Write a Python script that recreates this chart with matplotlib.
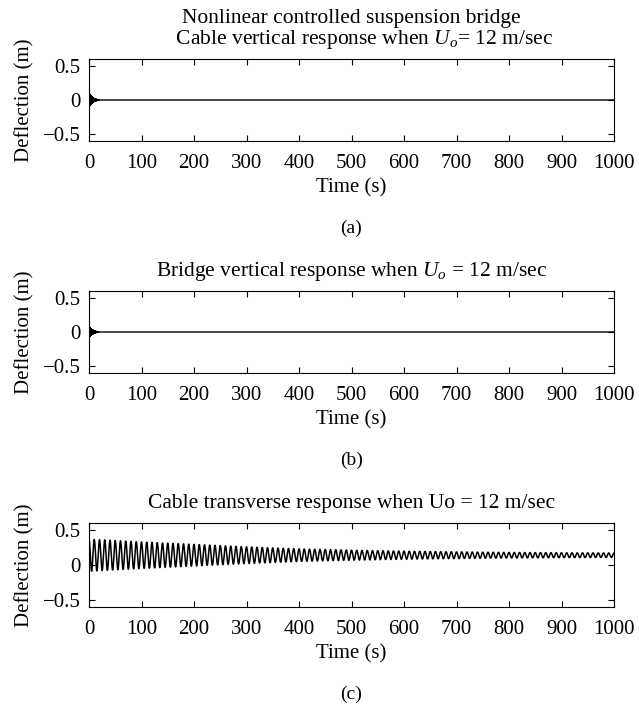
import numpy as np
import matplotlib
matplotlib.use("Agg")
import matplotlib.pyplot as plt

plt.rcParams['font.family'] = ['Liberation Serif', 'DejaVu Serif']
plt.rcParams['mathtext.fontset'] = 'custom'
plt.rcParams['mathtext.rm'] = 'Liberation Serif'
plt.rcParams['mathtext.it'] = 'Liberation Serif:italic'
plt.rcParams['font.size'] = 15

# --- values ---
# (a) cable vertical / (b) bridge vertical: short burst at the start, then ~0
burst_t = [0, 2, 5, 8, 12, 16, 20]
burst_amp_a = [0.10, 0.075, 0.05, 0.03, 0.015, 0.005, 0.0]
burst_amp_b = [0.08, 0.06, 0.04, 0.025, 0.012, 0.004, 0.0]
burst_period = 0.6  # s

# (c) cable transverse: slow oscillation about an offset, decaying envelope
env_t = [0, 100, 200, 300, 400, 500, 600, 700, 800, 900, 1000]
c_center = [0.14, 0.14, 0.14, 0.14, 0.14, 0.14, 0.14, 0.14, 0.14, 0.14, 0.14]
c_amp = [0.23, 0.19, 0.155, 0.12, 0.09, 0.072, 0.058, 0.048, 0.04, 0.035, 0.032]
c_period = 10.0  # s

xticks = [0, 100, 200, 300, 400, 500, 600, 700, 800, 900, 1000]
yticks = [-0.5, 0, 0.5]
ytick_labels = ['\u22120.5', '0', '0.5']

titles = [
    'Nonlinear controlled suspension bridge\n     Cable vertical response when $U_o$= 12 m/sec',
    'Bridge vertical response when $U_o$ = 12 m/sec',
    'Cable transverse response when Uo = 12 m/sec',
]
panel_tags = ['(a)', '(b)', '(c)']

t = np.arange(0, 1000.01, 0.05)
sig_a = np.interp(t, burst_t, burst_amp_a) * np.sin(2 * np.pi * t / burst_period)
sig_b = np.interp(t, burst_t, burst_amp_b) * np.sin(2 * np.pi * t / burst_period)
sig_c = np.interp(t, env_t, c_center) + np.interp(t, env_t, c_amp) * np.cos(2 * np.pi * t / c_period)
signals = [sig_a, sig_b, sig_c]

W, H = 639, 710
fig = plt.figure(figsize=(W / 100, H / 100), dpi=100)

# axes frames in pixels: (left, top, right, bottom)
frames = [(89, 59, 614, 141), (89, 291, 614, 373), (89, 523, 614, 607)]

for i, (l, top, r, b) in enumerate(frames):
    ax = fig.add_axes([l / W, 1 - b / H, (r - l) / W, (b - top) / H])
    ax.plot(t, signals[i], color='black', linewidth=1.1 if i == 2 else 1.0)
    ax.set_xlim(0, 1000)
    ax.set_ylim(-0.6, 0.6)
    ax.set_xticks(xticks)
    ax.set_yticks(yticks)
    ax.set_yticklabels(ytick_labels)
    ax.tick_params(direction='in', top=True, right=True, length=4, width=0.8, labelsize=15)
    ax.tick_params(axis='x', pad=9)
    ax.tick_params(axis='y', pad=6)
    for sp in ax.spines.values():
        sp.set_linewidth(0.8)
    ax.set_title(titles[i], fontsize=15.5, pad=11, linespacing=1.0)
    ax.set_ylabel('Deflection (m)', fontsize=15, labelpad=6)
    ax.set_xlabel('Time (s)', fontsize=15, labelpad=4)
    fig.text((l + r) / 2 / W, 1 - (b + 87) / H, panel_tags[i], ha='center', va='center', fontsize=14)

fig.savefig('out.png', dpi=100)
